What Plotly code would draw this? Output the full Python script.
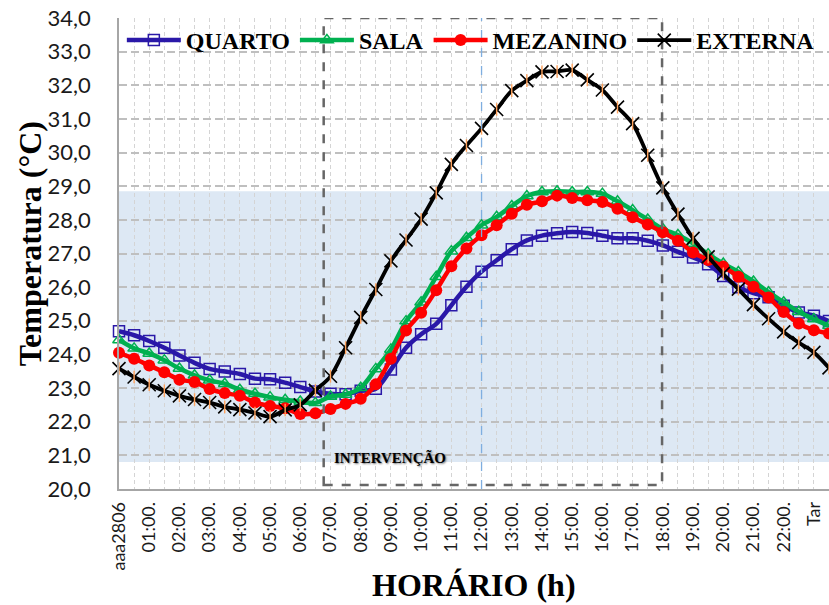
import plotly.graph_objects as go

# ---------------- data ----------------
tick_labels = ["aaa2806", "01:00.", "02:00.", "03:00.", "04:00.", "05:00.", "06:00.",
               "07:00.", "08:00.", "09:00.", "10:00.", "11:00.", "12:00.", "13:00.",
               "14:00.", "15:00.", "16:00.", "17:00.", "18:00.", "19:00.", "20:00.",
               "21:00.", "22:00.", "Tar"]

quarto = [24.69, 24.57, 24.40, 24.20, 23.97, 23.75, 23.57, 23.49, 23.42, 23.28, 23.26, 23.16,
          23.03, 22.90, 22.83, 22.82, 22.92, 22.98, 23.55, 24.20, 24.60, 24.91, 25.46, 26.01,
          26.46, 26.80, 27.13, 27.39, 27.53, 27.60, 27.64, 27.61, 27.53, 27.45, 27.45, 27.38,
          27.24, 27.05, 26.88, 26.68, 26.33, 26.00, 25.82, 25.70, 25.45, 25.25, 25.15, 24.99]

sala = [24.43, 24.18, 24.03, 23.83, 23.58, 23.38, 23.23, 23.13, 22.95, 22.83, 22.73, 22.65,
        22.60, 22.56, 22.75, 22.81, 23.01, 23.57, 24.15, 24.99, 25.55, 26.31, 27.07, 27.47,
        27.84, 28.09, 28.41, 28.71, 28.83, 28.85, 28.83, 28.83, 28.78, 28.55, 28.29, 28.01,
        27.73, 27.55, 27.30, 26.98, 26.70, 26.45, 26.17, 25.85, 25.55, 25.27, 25.05, 24.85]

mezanino = [24.05, 23.87, 23.67, 23.47, 23.25, 23.18, 22.97, 22.85, 22.77, 22.57, 22.47, 22.40,
            22.23, 22.25, 22.38, 22.53, 22.68, 23.11, 23.87, 24.71, 25.24, 25.91, 26.62, 27.15,
            27.54, 27.84, 28.18, 28.45, 28.55, 28.72, 28.65, 28.58, 28.53, 28.33, 28.08, 27.86,
            27.63, 27.38, 27.03, 26.81, 26.61, 26.31, 26.01, 25.69, 25.26, 24.92, 24.72, 24.62]

externa = [23.58, 23.33, 23.10, 22.92, 22.77, 22.66, 22.57, 22.44, 22.36, 22.26, 22.15, 22.35,
           22.50, 22.93, 23.35, 24.20, 25.10, 25.93, 26.78, 27.40, 28.02, 28.80, 29.65, 30.21,
           30.72, 31.28, 31.84, 32.14, 32.40, 32.41, 32.45, 32.16, 31.86, 31.35, 30.86, 29.92,
           28.95, 28.17, 27.45, 26.90, 26.40, 25.94, 25.48, 25.06, 24.67, 24.35, 24.06, 23.60]

comfort_band = [20.8, 28.85]
intervention = [13.55, 35.95]
midday = 24

x = list(range(len(quarto)))
tickvals = list(range(0, 2 * len(tick_labels), 2))

fig = go.Figure()

# comfort band
fig.add_shape(type="rect", xref="paper", yref="y", x0=0, x1=1,
              y0=comfort_band[0], y1=comfort_band[1],
              fillcolor="#DDE8F4", line_width=0, layer="below")

series = [
    ("QUARTO", quarto, "#2A18A8", dict(symbol="square-open", size=11,
                                       line=dict(width=1.5, color="#2A18A8"))),
    ("SALA", sala, "#00B050", dict(symbol="triangle-up-open", size=11,
                                   line=dict(width=1.5, color="#00A040"))),
    ("MEZANINO", mezanino, "#FF0000", dict(symbol="circle", size=12, color="#FF0000",
                                           line=dict(width=0))),
    ("EXTERNA", externa, "#000000", dict(symbol="x-thin-open", size=13,
                                         line=dict(width=1.6, color="#000000"))),
]

for name, vals, col, mk in series:
    fig.add_trace(go.Scatter(
        x=x, y=vals, name=name, mode="lines+markers",
        line=dict(color=col, width=4.5 if name != "EXTERNA" else 3.8,
                  shape="spline", smoothing=0.9),
        marker=mk, cliponaxis=False))

# vertical stroke of the asterisk markers for EXTERNA
fig.add_trace(go.Scatter(x=x, y=externa, mode="markers", showlegend=False,
                         marker=dict(symbol="line-ns-open", size=9,
                                     line=dict(width=1.4, color="#000000")),
                         cliponaxis=False, hoverinfo="skip"))

# intervention box
fig.add_shape(type="rect", xref="x", yref="y", x0=intervention[0], x1=intervention[1],
              y0=20.12, y1=34, line=dict(color="#666666", width=2.5, dash="dash"),
              fillcolor="rgba(0,0,0,0)", layer="above")
# midday line
fig.add_shape(type="line", xref="x", yref="y", x0=midday, x1=midday, y0=20, y1=34,
              line=dict(color="#7FAEE0", width=1.3, dash="dash"), layer="above")

fig.add_annotation(x=intervention[0] + 0.55, y=20.95, xref="x", yref="y",
                   text="<b>INTERVENÇÃO</b>", showarrow=False, xanchor="left",
                   yanchor="middle",
                   font=dict(family="Liberation Serif", size=15, color="#000000",
                             shadow="1px 1px 2px #777777"))

fig.add_annotation(x=-0.125, y=0.52, xref="paper", yref="paper",
                   text="<b>Temperatura (°C)</b>", showarrow=False, textangle=-90,
                   xanchor="center", yanchor="middle",
                   font=dict(family="Liberation Serif", size=32, color="#000000"))
fig.add_annotation(x=0.5, y=-0.204, xref="paper", yref="paper",
                   text="<b>HORÁRIO (h)</b>", showarrow=False,
                   xanchor="center", yanchor="middle",
                   font=dict(family="Liberation Serif", size=32, color="#000000"))

fig.update_layout(
    width=829, height=605,
    margin=dict(l=119, r=0, t=18, b=116),
    paper_bgcolor="white", plot_bgcolor="rgba(0,0,0,0)",
    separators=",.",
    showlegend=True,
    legend=dict(orientation="h", x=0.004, y=1.0, xanchor="left", yanchor="top",
                bgcolor="rgba(0,0,0,0)", itemwidth=54,
                font=dict(family="Liberation Serif", size=24, color="#000000", weight="bold")),
    xaxis=dict(range=[0, len(quarto) - 1], tickmode="array", tickvals=tickvals,
               ticktext=tick_labels, tickangle=-90,
               tickfont=dict(family="Lato", size=18, color="#1A1A1A"),
               showgrid=True, gridcolor="#D4D4D4", gridwidth=1, griddash="4px,3px",
               minor=dict(tickmode="linear", tick0=0, dtick=1, showgrid=True,
                          gridcolor="#D4D4D4", gridwidth=1, griddash="4px,3px"),
               showline=True, linecolor="#A6A6A6", linewidth=1.5,
               ticks="", zeroline=False, ticklabelstandoff=4),
    yaxis=dict(range=[20, 34], dtick=1, tickformat=".1f",
               tickfont=dict(family="Lato", size=22, color="#1A1A1A"),
               showgrid=True, gridcolor="#BFBFBF", gridwidth=2, griddash="8px,4px",
               showline=True, linecolor="#A6A6A6", linewidth=1.5,
               ticks="", zeroline=False, ticklabelstandoff=22),
)

fig.write_html("out.html")
